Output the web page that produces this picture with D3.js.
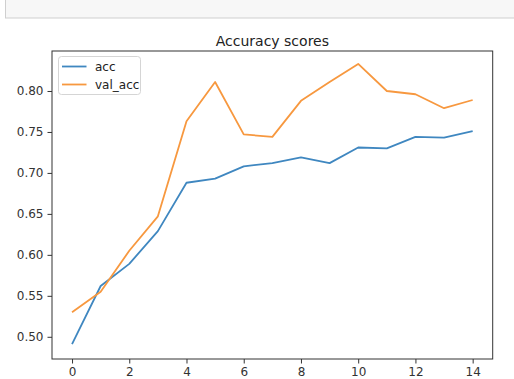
<!DOCTYPE html>
<html><head><meta charset="utf-8">
<script src="https://cdn.jsdelivr.net/npm/d3@7"></script>
<style>body{margin:0;background:#fff;}svg{display:block;font-family:"DejaVu Sans",sans-serif;}</style>
</head><body>
<svg id="c" width="514" height="379"></svg>
<script>
const epochs = [0,1,2,3,4,5,6,7,8,9,10,11,12,13,14];
const acc = [0.491,0.562,0.589,0.629,0.688,0.693,0.708,0.712,0.719,0.712,0.731,0.730,0.744,0.743,0.751];
const valAcc = [0.530,0.555,0.605,0.647,0.763,0.811,0.747,0.744,0.788,0.811,0.833,0.800,0.796,0.779,0.789];
const xTicks = [0,2,4,6,8,10,12,14];
const yTicks = [0.50,0.55,0.60,0.65,0.70,0.75,0.80];
const seriesNames = ["acc","val_acc"];
const title = "Accuracy scores";

const svg = d3.select("#c");
const L=52, R=492.7, T=51, B=359;
const x = d3.scaleLinear().domain([-0.7,14.7]).range([L,R]);
const y = d3.scaleLinear().domain([0.4729,0.8488]).range([B,T]);

// top notebook strip
svg.append("rect").attr("x",5.5).attr("y",-2).attr("width",520).attr("height",20)
  .attr("fill","#f7f7f7").attr("stroke","#cfcfcf");

// title
svg.append("text").attr("x",(L+R)/2).attr("y",46).attr("text-anchor","middle")
  .attr("font-size",14).attr("fill","#222").text(title);

const colors = ["#3f87c0","#f7983f"];
const series = [acc,valAcc];
const line = d3.line().x((d,i)=>x(epochs[i])).y(d=>y(d));
series.forEach((s,k)=>{
  svg.append("path").datum(s).attr("d",line).attr("fill","none")
    .attr("stroke",colors[k]).attr("stroke-width",1.8).attr("stroke-linejoin","round");
});

// axes
const xa = svg.append("g").attr("transform",`translate(0,${B})`)
  .call(d3.axisBottom(x).tickValues(xTicks).tickSize(4.5).tickPadding(4).tickFormat(d3.format("d")));
const ya = svg.append("g").attr("transform",`translate(${L},0)`)
  .call(d3.axisLeft(y).tickValues(yTicks).tickSize(4.5).tickPadding(4).tickFormat(d3.format(".2f")));
[xa,ya].forEach(g=>{
  g.select(".domain").remove();
  g.selectAll("line").attr("stroke","#333");
  g.selectAll("text").attr("font-size",12).attr("fill","#333").attr("font-family","DejaVu Sans");
});
// spines
svg.append("rect").attr("x",L).attr("y",T).attr("width",R-L).attr("height",B-T)
  .attr("fill","none").attr("stroke","#333").attr("stroke-width",1);

// legend
const lg = svg.append("g");
lg.append("rect").attr("x",58.5).attr("y",56.5).attr("width",82).attr("height",38).attr("rx",3)
  .attr("fill","#fff").attr("stroke","#d5d5d5");
seriesNames.forEach((n,k)=>{
  const yy = 66.5 + k*18;
  lg.append("line").attr("x1",62).attr("x2",86.5).attr("y1",yy).attr("y2",yy)
    .attr("stroke",colors[k]).attr("stroke-width",1.8);
  lg.append("text").attr("x",95).attr("y",yy+4).attr("font-size",12).attr("fill","#222").text(n);
});
</script>
</body></html>
